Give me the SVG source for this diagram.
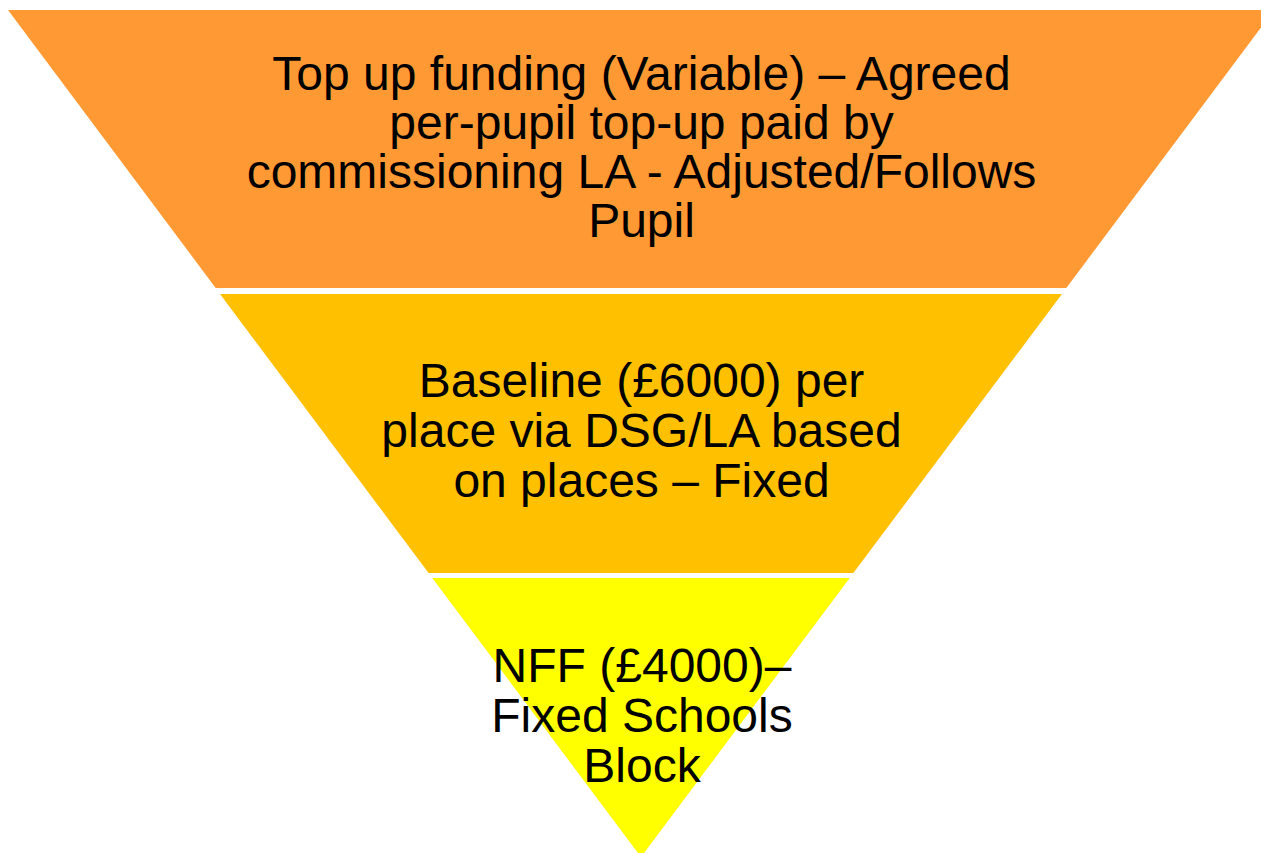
<svg xmlns="http://www.w3.org/2000/svg" width="1261" height="853" viewBox="0 0 1261 853">
<style>
.t{font-family:"Liberation Sans",Arial,sans-serif;font-size:48px;fill:#000;text-anchor:middle}
</style>
<rect width="1261" height="853" fill="#fff"/>
<g id="top-band">
<polygon points="8,10 1274,10 1066.3,288 215.7,288" fill="#FF9933"/>
<text class="t" x="641.5" y="90">Top up funding (Variable) – Agreed</text>
<text class="t" x="641.5" y="139">per-pupil top-up paid by</text>
<text class="t" x="641.5" y="188">commissioning LA - Adjusted/Follows</text>
<text class="t" x="641.5" y="237">Pupil</text>
</g>
<g id="middle-band">
<polygon points="220,294 1062,294 853.4,573 428.6,573" fill="#FFC000"/>
<text class="t" x="641.5" y="397">Baseline (£6000) per</text>
<text class="t" x="641.5" y="447">place via DSG/LA based</text>
<text class="t" x="641.5" y="497">on places – Fixed</text>
</g>
<g id="bottom-band">
<polygon points="432.3,578 849.7,578 641,857" fill="#FFFF00"/>
<text class="t" x="642" y="682">NFF (£4000)–</text>
<text class="t" x="642" y="732">Fixed Schools</text>
<text class="t" x="642" y="782">Block</text>
</g>
<g id="connectors"></g>
</svg>
